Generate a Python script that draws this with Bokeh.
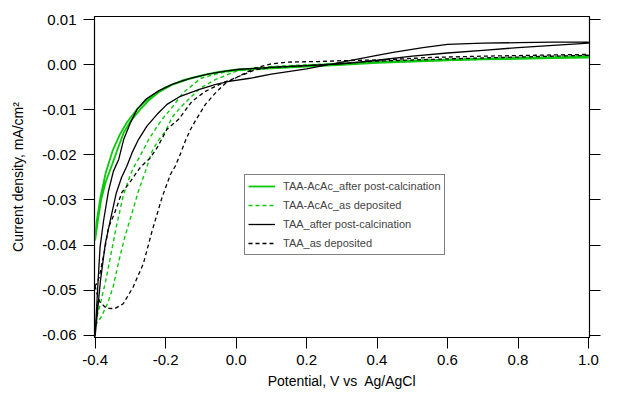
from bokeh.plotting import figure
from bokeh.models import Range1d, LinearAxis, FixedTicker, NumeralTickFormatter, Legend, LegendItem, CustomJSTickFormatter
from bokeh.embed import file_html
from bokeh.resources import INLINE

# ---- data (potential V vs Ag/AgCl, current density mA/cm2) ----
# TAA-AcAc after post-calcination (green solid), forward and return branches
acac_calc_fwd_x = [-0.400, -0.392, -0.383, -0.370, -0.352, -0.338, -0.319, -0.300, -0.272, -0.245, -0.216,
                   -0.180, -0.140, -0.087, -0.040, 0.008, 0.100, 0.200, 0.300, 0.400, 0.500, 0.600, 0.700,
                   0.800, 0.900, 1.000]
acac_calc_fwd_y = [-0.0390, -0.0345, -0.0300, -0.0260, -0.0222, -0.0191, -0.0151, -0.0126, -0.0099, -0.0077,
                   -0.0059, -0.0044, -0.0033, -0.0022, -0.0016, -0.0012, -0.0008, -0.0004, 0.0000, 0.0004,
                   0.0007, 0.0010, 0.0012, 0.0013, 0.0015, 0.0016]
acac_calc_rev_x = [1.000, 0.900, 0.800, 0.700, 0.600, 0.500, 0.400, 0.300, 0.200, 0.100, 0.000, -0.050, -0.100,
                   -0.150, -0.200, -0.250, -0.280, -0.310, -0.330, -0.350, -0.370, -0.385, -0.396, -0.400]
acac_calc_rev_y = [0.0018, 0.0016, 0.0015, 0.0013, 0.0011, 0.0009, 0.0006, 0.0003, -0.0002, -0.0006, -0.0011,
                   -0.0016, -0.0024, -0.0034, -0.0050, -0.0075, -0.0098, -0.0128, -0.0155, -0.0190, -0.0240,
                   -0.0295, -0.0350, -0.0385]

# TAA-AcAc as deposited (green dashed)
acac_dep_fwd_x = [-0.400, -0.396, -0.382, -0.363, -0.349, -0.330, -0.315, -0.296, -0.277, -0.257, -0.238, -0.219,
                  -0.200, -0.181, -0.158, -0.135, -0.102, -0.059, -0.002, 0.050, 0.100, 0.200, 0.300, 0.400,
                  0.500, 0.600, 0.700, 0.800, 0.900, 1.000]
acac_dep_fwd_y = [-0.0578, -0.0574, -0.0559, -0.0526, -0.0493, -0.0427, -0.0380, -0.0331, -0.0280, -0.0236,
                  -0.0191, -0.0166, -0.0147, -0.0116, -0.0095, -0.0077, -0.0052, -0.0033, -0.0015, -0.0008,
                  -0.0004, 0.0000, 0.0003, 0.0006, 0.0009, 0.0012, 0.0014, 0.0016, 0.0018, 0.0020]
acac_dep_rev_x = [1.000, 0.800, 0.600, 0.400, 0.200, 0.100, 0.000, -0.050, -0.100, -0.150, -0.186, -0.210,
                  -0.229, -0.248, -0.272, -0.291, -0.305, -0.320, -0.340, -0.355, -0.370, -0.385, -0.400]
acac_dep_rev_y = [0.0018, 0.0014, 0.0010, 0.0005, -0.0003, -0.0007, -0.0013, -0.0019, -0.0030, -0.0062,
                  -0.0099, -0.0121, -0.0143, -0.0166, -0.0202, -0.0228, -0.0255, -0.0290, -0.0360, -0.0420,
                  -0.0480, -0.0530, -0.0575]

# TAA after post-calcination (black solid)
taa_calc_fwd_x = [-0.400, -0.393, -0.386, -0.376, -0.362, -0.348, -0.333, -0.319, -0.300, -0.281, -0.255, -0.220,
                  -0.180, -0.130, -0.080, -0.030, 0.010, 0.100, 0.200, 0.300, 0.400, 0.500, 0.600, 0.700,
                  0.800, 0.900, 1.000]
taa_calc_fwd_y = [-0.0603, -0.0500, -0.0405, -0.0346, -0.0280, -0.0236, -0.0210, -0.0166, -0.0129, -0.0099,
                  -0.0076, -0.0058, -0.0043, -0.0030, -0.0021, -0.0014, -0.0010, -0.0006, -0.0002, 0.0002,
                  0.0010, 0.0019, 0.0026, 0.0032, 0.0038, 0.0043, 0.0048]
taa_calc_rev_x = [1.000, 0.900, 0.800, 0.700, 0.600, 0.530, 0.450, 0.400, 0.300, 0.200, 0.100, 0.040, -0.020,
                  -0.060, -0.106, -0.158, -0.196, -0.224, -0.253, -0.277, -0.295, -0.310, -0.325, -0.340,
                  -0.357, -0.371, -0.385, -0.400]
taa_calc_rev_y = [0.0050, 0.0050, 0.0049, 0.0048, 0.0045, 0.0038, 0.0028, 0.0021, 0.0006, -0.0009, -0.0021,
                  -0.0030, -0.0037, -0.0044, -0.0055, -0.0070, -0.0088, -0.0110, -0.0136, -0.0166, -0.0195,
                  -0.0225, -0.0250, -0.0285, -0.0346, -0.0397, -0.0480, -0.0603]

# TAA as deposited (black dashed)
taa_dep_fwd_x = [-0.400, -0.396, -0.387, -0.368, -0.344, -0.320, -0.292, -0.263, -0.238, -0.210, -0.186, -0.172,
                 -0.158, -0.144, -0.129, -0.116, -0.087, -0.059, -0.030, 0.017, 0.055, 0.100, 0.150, 0.232,
                 0.300, 0.421, 0.546, 0.700, 0.850, 1.000]
taa_dep_fwd_y = [-0.0490, -0.0504, -0.0526, -0.0540, -0.0541, -0.0530, -0.0493, -0.0441, -0.0368, -0.0294,
                 -0.0243, -0.0224, -0.0198, -0.0169, -0.0143, -0.0125, -0.0088, -0.0063, -0.0041, -0.0022,
                 -0.0007, 0.0002, 0.0006, 0.0007, 0.0009, 0.0011, 0.0016, 0.0019, 0.0021, 0.0023]
taa_dep_rev_x = [1.000, 0.800, 0.600, 0.400, 0.300, 0.200, 0.100, 0.055, 0.008, -0.040, -0.087, -0.125, -0.163,
                 -0.196, -0.224, -0.243, -0.272, -0.286, -0.305, -0.324, -0.345, -0.362, -0.375, -0.388,
                 -0.395, -0.400]
taa_dep_rev_y = [0.0021, 0.0017, 0.0013, 0.0008, 0.0003, -0.0002, -0.0006, -0.0011, -0.0026, -0.0041, -0.0059,
                 -0.0081, -0.0121, -0.0143, -0.0184, -0.0206, -0.0228, -0.0243, -0.0265, -0.0283, -0.0330,
                 -0.0361, -0.0420, -0.0470, -0.0485, -0.0490]

series_labels = ["TAA-AcAc_after post-calcination", "TAA-AcAc_as deposited",
                 "TAA_after post-calcination", "TAA_as deposited"]
x_ticks = [-0.4, -0.2, 0.0, 0.2, 0.4, 0.6, 0.8, 1.0]
y_ticks = [0.01, 0.00, -0.01, -0.02, -0.03, -0.04, -0.05, -0.06]

GREEN = "#0cc80c"
FONT = "Liberation Sans"

p = figure(width=620, height=393, output_backend="svg", toolbar_location=None,
           x_range=Range1d(-0.4017, 1.0028), y_range=Range1d(-0.0605, 0.0107),
           min_border_left=94, min_border_right=31, min_border_top=16, min_border_bottom=56)
p.background_fill_color = "white"
p.border_fill_color = "white"
p.outline_line_color = "black"
p.outline_line_width = 1.2
p.xgrid.visible = False
p.ygrid.visible = False

series = [
    (acac_calc_fwd_x + acac_calc_rev_x, acac_calc_fwd_y + acac_calc_rev_y, GREEN, "solid", 1.8),
    (acac_dep_fwd_x + acac_dep_rev_x, acac_dep_fwd_y + acac_dep_rev_y, GREEN, "4 3", 1.4),
    (taa_calc_fwd_x + taa_calc_rev_x, taa_calc_fwd_y + taa_calc_rev_y, "black", "solid", 1.3),
    (taa_dep_fwd_x + taa_dep_rev_x, taa_dep_fwd_y + taa_dep_rev_y, "black", "4 3", 1.3),
]
items = []
for (xs, ys, col, dash, lw), lab in zip(series, series_labels):
    r = p.line(xs, ys, line_color=col, line_dash=dash, line_width=lw)
    items.append(LegendItem(label=lab, renderers=[r]))

legend = Legend(items=items, location=(150, 82), margin=0, padding=3, spacing=3,
                label_text_font=FONT, label_text_font_size="11px", label_height=16,
                glyph_height=16, glyph_width=27, label_standoff=8,
                border_line_color="black", border_line_width=1.5, background_fill_alpha=1)
p.add_layout(legend, "center")

for ax in (p.xaxis[0], p.yaxis[0]):
    ax.axis_line_color = "black"
    ax.major_tick_line_color = "black"
    ax.major_tick_out = 11
    ax.major_tick_in = 0
    ax.minor_tick_line_color = None
    ax.major_label_text_font = FONT
    ax.major_label_text_font_size = "15px"
    ax.major_label_text_color = "black"
    ax.axis_label_text_font = FONT
    ax.axis_label_text_font_size = "14px"
    ax.axis_label_text_font_style = "normal"
    ax.axis_label_text_color = "black"

p.xaxis.ticker = FixedTicker(ticks=x_ticks)
p.xaxis.formatter = NumeralTickFormatter(format="0.0")
p.xaxis.axis_label = "Potential, V vs\u00a0 Ag/AgCl"
p.xaxis.major_label_standoff = 6
p.xaxis.axis_label_standoff = 5

p.yaxis.ticker = FixedTicker(ticks=y_ticks)
p.yaxis.formatter = NumeralTickFormatter(format="0.00")
p.yaxis.axis_label = "Current density, mA/cm\u00b2"
p.yaxis.major_label_standoff = 7
p.yaxis.axis_label_standoff = 13

right = LinearAxis(ticker=FixedTicker(ticks=y_ticks),
                   formatter=CustomJSTickFormatter(code="return ''"),
                   major_label_text_color=None,
                   major_tick_out=11, major_tick_in=0, minor_tick_line_color=None,
                   axis_line_color="black")
p.add_layout(right, "right")

open("out.html", "w").write(file_html(p, INLINE))
